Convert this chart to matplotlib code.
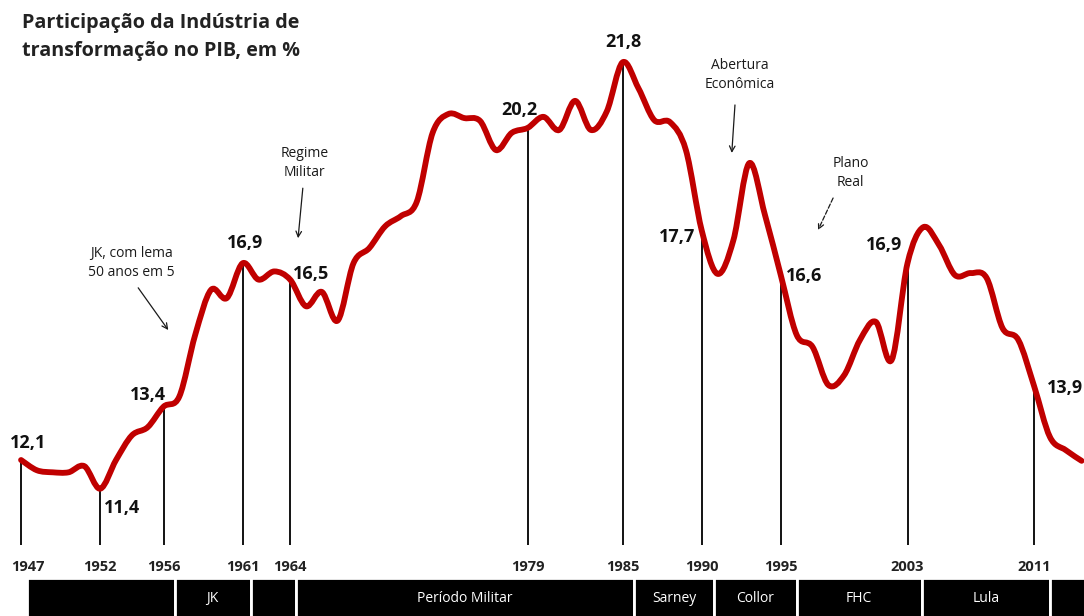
import matplotlib.pyplot as plt
from matplotlib.path import Path
from matplotlib.patches import PathPatch
from matplotlib.transforms import ScaledTranslation
import numpy as np

plt.rcParams["font.family"] = ["Open Sans", "DejaVu Sans"]

# values (share of manufacturing in GDP, %)
years = list(range(1947, 2015))
industry_share = [
    12.1, 11.85, 11.8, 11.8, 11.95, 11.4, 12.1, 12.7, 12.9, 13.4,
    13.65, 15.15, 16.25, 16.05, 16.9, 16.5, 16.7, 16.5, 15.85, 16.2,
    15.5, 16.9, 17.27, 17.8, 18.05, 18.4, 20.08, 20.54, 20.44, 20.37,
    19.66, 20.08, 20.2, 20.47, 20.15, 20.86, 20.15, 20.6, 21.8, 21.17,
    20.39, 20.34, 19.66, 17.7, 16.64, 17.46, 19.34, 18.07, 16.6, 15.15,
    14.86, 13.93, 14.17, 15.03, 15.47, 14.54, 16.9, 17.78, 17.34, 16.61,
    16.66, 16.54, 15.32, 15.03, 13.9, 12.66, 12.34, 12.08,
]

marked_years = [1947, 1952, 1956, 1961, 1964, 1979, 1985, 1990, 1995, 2003, 2011]
marked_labels = ["12,1", "11,4", "13,4", "16,9", "16,5", "20,2", "21,8",
                 "17,7", "16,6", "16,9", "13,9"]

era_edges = [1947.4, 1956.7, 1961.5, 1964.4, 1985.7, 1990.8, 1996.0, 2003.9, 2012.0, 2015.0]
era_names = ["", "JK", "", "Período Militar", "Sarney", "Collor", "FHC", "Lula", ""]

note_texts = ["JK, com lema\n50 anos em 5", "Regime\nMilitar",
              "Abertura\nEconômica", "Plano\nReal"]

# layout only: label offsets (pixels from the point) and alignment
label_offsets = [(7, 17, "center"), (4, -19, "left"), (2, 12, "right"),
                 (2, 20, "center"), (3, 6, "left"), (-8, 18, "center"),
                 (1, 20, "center"), (-6, -7, "right"), (5, 0, "left"),
                 (-5, 18, "right"), (13, -2, "left")]
note_pos = [(1953.95, 16.9), (1964.9, 19.34), (1992.4, 21.49), (1999.4, 19.1)]
arrow_tail = [(1954.4, 16.3), (1964.8, 18.73), (1992.1, 20.76), (1998.3, 18.49)]
arrow_tip = [(1956.3, 15.27), (1964.5, 17.51), (1991.9, 19.59), (1997.35, 17.71)]
arrow_style = ["-", "-", "-", "--"]


def smooth_path(x, y):
    # catmull-rom through the points, drawn as bezier segments
    xp = np.r_[x[0], x, x[-1]].astype(float)
    yp = np.r_[y[0], y, y[-1]].astype(float)
    verts = [(xp[1], yp[1])]
    codes = [Path.MOVETO]
    for i in range(1, len(xp) - 2):
        c1 = (xp[i] + (xp[i + 1] - xp[i - 1]) / 6, yp[i] + (yp[i + 1] - yp[i - 1]) / 6)
        c2 = (xp[i + 1] - (xp[i + 2] - xp[i]) / 6, yp[i + 1] - (yp[i + 2] - yp[i]) / 6)
        verts += [c1, c2, (xp[i + 1], yp[i + 1])]
        codes += [Path.CURVE4] * 3
    return Path(verts, codes)


W, H = 1084, 616
fig = plt.figure(figsize=(W / 100, H / 100), dpi=100)
xlim = (1945.67, 2014.15)

ax = fig.add_axes([0, 71 / H, 1, 545 / H])
ax.set_xlim(xlim)
ax.set_ylim(10.027, 23.32)
for s in ax.spines.values():
    s.set_visible(False)
ax.set_yticks([])

share = dict(zip(years, industry_share))
marked_vals = [share[y] for y in marked_years]
ax.vlines(marked_years, 10.027, marked_vals, color="black", lw=1.3, zorder=1)

ax.add_patch(PathPatch(smooth_path(years, industry_share), fill=False,
                       edgecolor="#C00000", lw=4.2, capstyle="round",
                       joinstyle="round", zorder=3))

for yr, v, lab, (dx, dy, ha) in zip(marked_years, marked_vals, marked_labels, label_offsets):
    ax.annotate(lab, (yr, v), xytext=(dx, dy), textcoords="offset pixels",
                ha=ha, va="center", fontsize=13, fontweight="bold", color="#111111",
                zorder=4)

ax.set_xticks(marked_years)
ax.set_xticklabels([str(y) for y in marked_years], fontsize=10.5,
                   fontweight="bold", color="#222222")
ax.tick_params(axis="x", length=0, pad=11)
# the first year label sits a bit right of its line
first = ax.get_xticklabels()[0]
first.set_transform(first.get_transform() + ScaledTranslation(0.07, 0, fig.dpi_scale_trans))

for txt, pos, tail, tip, ls in zip(note_texts, note_pos, arrow_tail, arrow_tip, arrow_style):
    ax.text(*pos, txt, ha="center", va="center", fontsize=10, color="#1a1a1a",
            linespacing=1.35)
    ax.annotate("", xy=tip, xytext=tail,
                arrowprops=dict(arrowstyle="->", lw=0.9, color="#1a1a1a",
                                linestyle=ls, shrinkA=0, shrinkB=0))

# title
fig.text(22 / W, 1 - 13 / H, "Participação da Indústria de\ntransformação no PIB, em %",
         ha="left", va="top", fontsize=14.2, fontweight="bold", color="#222222",
         linespacing=1.55)

# band of government periods
axb = fig.add_axes([0, 0, 1, 38 / H])
axb.set_xlim(xlim)
axb.set_ylim(0, 1)
axb.axis("off")
lefts = era_edges[:-1]
widths = np.diff(era_edges)
axb.bar(lefts, 1.5, width=widths, bottom=-0.5, align="edge", color="black",
        edgecolor="white", lw=2)
for l, w, name in zip(lefts, widths, era_names):
    if name:
        axb.text(l + w / 2, 0.45, name, ha="center", va="center",
                 fontsize=10, color="white")

fig.savefig("out.png", dpi=100)
